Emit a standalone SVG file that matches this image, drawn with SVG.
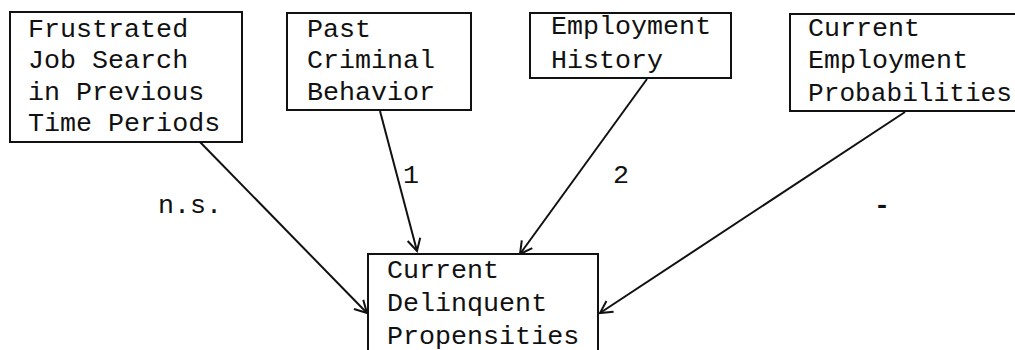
<svg xmlns="http://www.w3.org/2000/svg" width="1015" height="350" viewBox="0 0 1015 350">
<style>
.box{fill:#fff;stroke:#111;stroke-width:2}
.t{font-family:"Liberation Mono",monospace;font-size:26.7px;fill:#111}
.edge{stroke:#111;stroke-width:2;fill:none}
</style>
<defs>
<marker id="ah" markerUnits="userSpaceOnUse" markerWidth="16" markerHeight="16" viewBox="0 0 16 16" refX="14" refY="8" orient="auto">
<path d="M2,1.5 L14,8 L2,14.5" fill="none" stroke="#111" stroke-width="2"/>
</marker>
</defs>
<rect width="1015" height="350" fill="#fff"/>
<g id="connectors">
<line class="edge" x1="200" y1="142" x2="367" y2="313" marker-end="url(#ah)"/>
<line class="edge" x1="380" y1="111" x2="417" y2="251" marker-end="url(#ah)"/>
<line class="edge" x1="647" y1="79" x2="520" y2="254" marker-end="url(#ah)"/>
<line class="edge" x1="905" y1="112" x2="600" y2="313" marker-end="url(#ah)"/>
<text class="t" x="158" y="213">n.s.</text>
<text class="t" x="403" y="183">1</text>
<text class="t" x="613" y="183">2</text>
<text class="t" x="874" y="213" font-weight="bold">-</text>
</g>
<g id="n1">
<rect class="box" x="10" y="12" width="232" height="130"/>
<text class="t" x="28" y="37">Frustrated</text>
<text class="t" x="28" y="68">Job Search</text>
<text class="t" x="28" y="100">in Previous</text>
<text class="t" x="28" y="131">Time Periods</text>
</g>
<g id="n2">
<rect class="box" x="287" y="13" width="184" height="97"/>
<text class="t" x="307" y="37">Past</text>
<text class="t" x="307" y="68">Criminal</text>
<text class="t" x="307" y="100">Behavior</text>
</g>
<g id="n3">
<rect class="box" x="530" y="13" width="201" height="65"/>
<text class="t" x="551" y="34">Employment</text>
<text class="t" x="551" y="68">History</text>
</g>
<g id="n4">
<rect class="box" x="790" y="14" width="240" height="97"/>
<text class="t" x="808" y="36">Current</text>
<text class="t" x="808" y="68">Employment</text>
<text class="t" x="808" y="101" textLength="204" lengthAdjust="spacingAndGlyphs">Probabilities</text>
</g>
<g id="n5">
<rect class="box" x="368" y="254" width="230" height="110"/>
<text class="t" x="387" y="278">Current</text>
<text class="t" x="387" y="311">Delinquent</text>
<text class="t" x="387" y="344">Propensities</text>
</g>
</svg>
